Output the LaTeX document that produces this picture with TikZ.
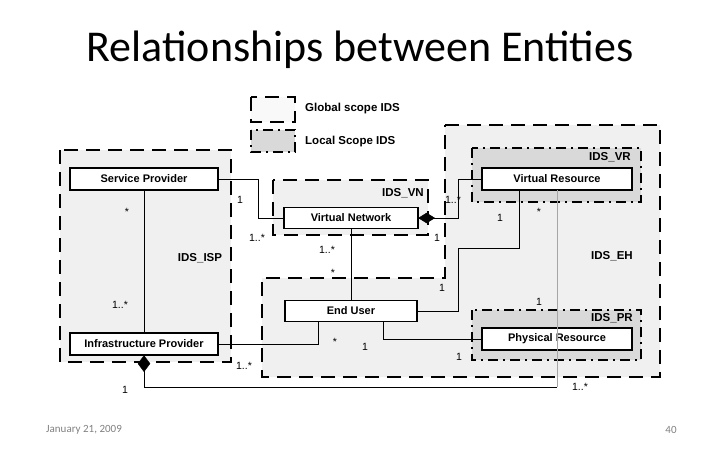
\documentclass[tikz,border=0pt]{standalone}
\usepackage{fontspec}
\setmainfont{Liberation Sans}
\newfontfamily\titlefont{Carlito}
\begin{document}
\begin{tikzpicture}[x=1pt,y=-1pt,
  glob/.style={draw=black,line width=2.3pt,dash pattern=on 14pt off 8pt,fill=gray!12},
  loc/.style={draw=black,line width=2.3pt,dash pattern=on 10pt off 5pt on 2pt off 5pt,fill=gray!30},
  cls/.style={draw=black,line width=1.2pt,fill=white,font=\bfseries\fontsize{11}{12}\selectfont,inner sep=0pt},
  conn/.style={draw=black,line width=0.6pt},
  mult/.style={font=\fontsize{10.5}{11}\selectfont,inner sep=0pt},
  reg/.style={font=\bfseries\fontsize{11.5}{12}\selectfont,inner sep=0pt},
  dia/.style={fill=black,draw=black}]
\useasboundingbox (0,0) rectangle (720,450);
\node[font=\titlefont\fontsize{44}{48}\selectfont] (title) at (360,50) {Relationships between Entities};
% legend
\draw[glob,fill=gray!5] (251,97) rectangle (295,122);
\node[reg,anchor=west] (lg) at (305,109) {Global scope IDS};
\draw[loc] (251,130) rectangle (295,152);
\node[reg,anchor=west] (ll) at (305,142) {Local Scope IDS};
% regions
\draw[glob] (60,150) rectangle (231,362);
\draw[glob] (445,125) -- (660,125) -- (660,377) -- (262,377) -- (262,278) -- (445,278) -- cycle;
\draw[glob] (273,180) rectangle (428,235);
\draw[loc] (472,148) rectangle (641,202);
\draw[loc] (472,310) rectangle (641,360);
% classes
\node[cls,minimum width=148pt,minimum height=22pt] (sp) at (144,179) {Service Provider};
\node[cls,minimum width=148pt,minimum height=22pt] (ip) at (144,344) {Infrastructure Provider};
\node[cls,minimum width=134pt,minimum height=21pt] (vn) at (351,218) {Virtual Network};
\node[cls,minimum width=150pt,minimum height=22pt] (vr) at (557,179) {Virtual Resource};
\node[cls,minimum width=150pt,minimum height=22pt] (pr) at (557,339) {Physical Resource};
\node[cls,minimum width=132pt,minimum height=21pt] (eu) at (351,311) {End User};
% connectors
\draw[conn] (sp.south) -- (ip.north);
\draw[conn] (sp.east) -- (258,179) |- (vn.west);
\draw[conn] (vn.east) -- (458,218) |- (vr.west);
\draw[dia] (vn.east) -- ++(8,-5) -- ++(8,5) -- ++(-8,5) -- cycle;
\draw[conn] (vn.south) -- (eu.north);
\draw[conn] (eu.east) -- (458,311) -- (458,248) -- (519,248) -- (519,190);
\draw[conn] (383,321.5) -- (383,339) -- (pr.west);
\draw[conn] (318,321.5) -- (318,344) -- (ip.east);
\coordinate (vrb) at (557,190);
\draw[conn] (ip.south) -- (144,387) -- (557,387);
\draw[draw=gray!70,line width=1pt] (557,387) -- (vrb);
\draw[dia] (ip.south) -- ++(-6,8) -- ++(6,8) -- ++(6,-8) -- cycle;
% region labels
\node[reg] (l1) at (200,258) {IDS\_ISP};
\node[reg] (l2) at (403,193) {IDS\_VN};
\node[reg] (l3) at (610,157) {IDS\_VR};
\node[reg] (l4) at (612,256) {IDS\_EH};
\node[reg] (l5) at (612,318) {IDS\_PR};
% multiplicities
\node[mult] (m1) at (127,212) {*};
\node[mult] (m2) at (120,305) {1..*};
\node[mult] (m3) at (240,200) {1};
\node[mult] (m4) at (257,238) {1..*};
\node[mult] (m5) at (327,250) {1..*};
\node[mult] (m6) at (333,273) {*};
\node[mult] (m7) at (453,200) {1..*};
\node[mult] (m8) at (437,238) {1};
\node[mult] (m9) at (442,288) {1};
\node[mult] (m10) at (500,218) {1};
\node[mult] (m11) at (539,212) {*};
\node[mult] (m12) at (539,302) {1};
\node[mult] (m13) at (335,342) {*};
\node[mult] (m14) at (365,347) {1};
\node[mult] (m15) at (244,366) {1..*};
\node[mult] (m16) at (459,357) {1};
\node[mult] (m17) at (580,387) {1..*};
\node[mult] (m18) at (125,390) {1};
% footer
\node[font=\titlefont\fontsize{11}{12}\selectfont,text=gray] (f1) at (84,430) {January 21, 2009};
\node[font=\titlefont\fontsize{11}{12}\selectfont,text=gray] (f2) at (671,430) {40};
\end{tikzpicture}
\end{document}
